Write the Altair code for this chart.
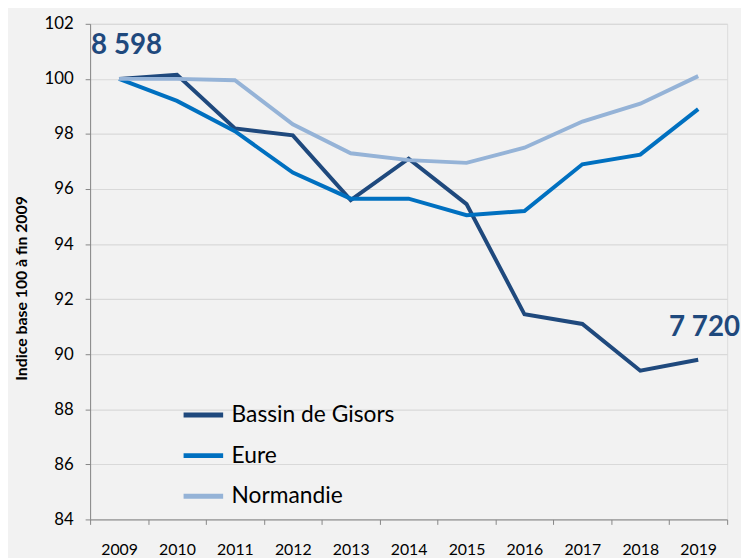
import altair as alt
import pandas as pd

years = [str(y) for y in range(2009, 2020)]
gisors = [100.0, 100.15, 98.2, 97.95, 95.6, 97.1, 95.45, 91.45, 91.1, 89.4, 89.8]
eure = [100.0, 99.2, 98.1, 96.6, 95.65, 95.65, 95.05, 95.2, 96.9, 97.25, 98.9]
normandie = [100.0, 100.0, 99.95, 98.35, 97.3, 97.05, 96.95, 97.5, 98.45, 99.1, 100.1]
series = ["Bassin de Gisors", "Eure", "Normandie"]
colors = ["#1F497D", "#0070C0", "#95B3D7"]

rows = []
for name, vals in zip(series, [gisors, eure, normandie]):
    for y, v in zip(years, vals):
        rows.append({"year": y, "value": v, "serie": name})
df = pd.DataFrame(rows)

ann_start = pd.DataFrame({"year": ["2009"], "value": [101.2], "label": ["8 598"]})
ann_end = pd.DataFrame({"year": ["2019"], "value": [90.95], "label": ["7 720"]})

FONT = "Lato"
xscale = alt.Scale(type="band", paddingInner=0, paddingOuter=0, domain=years)
yscale = alt.Scale(domain=[84, 102], nice=False, zero=False)

lines = alt.Chart(df).mark_line(strokeWidth=4, strokeJoin="miter").encode(
    x=alt.X("year:O", scale=xscale, bandPosition=0.5,
            axis=alt.Axis(title=None, labelAngle=0, tickBand="extent", labelFontSize=16,
                          labelPadding=17, tickSize=5, labelColor="#000000",
                          domainColor="#868686", tickColor="#868686", grid=False)),
    y=alt.Y("value:Q", scale=yscale,
            axis=alt.Axis(title="Indice base  100 à fin 2009", values=list(range(84, 103, 2)),
                          labelFontSize=17, labelPadding=12, tickSize=5,
                          titleFontSize=16, titleFontWeight="bold",
                          titleX=-69, titleY=267, titleBaseline="middle", titleAngle=270,
                          labelColor="#000000", titleColor="#000000",
                          domainColor="#868686", tickColor="#868686",
                          gridColor="#d9d9d9", gridWidth=1.2)),
    color=alt.Color("serie:N", scale=alt.Scale(domain=series, range=colors),
                    legend=alt.Legend(title=None, orient="none", legendX=92, legendY=373,
                                      symbolType="stroke", symbolStrokeWidth=5, symbolSize=1600,
                                      labelFontSize=23, labelOffset=6, rowPadding=6,
                                      labelLimit=400, padding=0, labelColor="#000000")),
    order=alt.Order("year:O"),
)

t1 = alt.Chart(ann_start).mark_text(align="left", baseline="middle", fontSize=28,
                                    fontWeight="bold", color="#1F497D", font=FONT, dx=1).encode(
    x=alt.X("year:O", scale=xscale, bandPosition=0), y=alt.Y("value:Q", scale=yscale),
    text="label:N")
t2 = alt.Chart(ann_end).mark_text(align="right", baseline="middle", fontSize=28,
                                  fontWeight="bold", color="#1F497D", font=FONT, dx=13).encode(
    x=alt.X("year:O", scale=xscale, bandPosition=1), y=alt.Y("value:Q", scale=yscale),
    text="label:N")

chart = alt.layer(lines, t1, t2).properties(
    width=644, height=501,
    autosize=alt.AutoSizeParams(type="none"),
    padding={"left": 83, "top": 13, "right": 14, "bottom": 36},
    background="#f2f2f2",
).configure_view(stroke=None, fill="#f2f2f2").configure(font=FONT)

chart.save("out.html", embed_options={"renderer": "svg", "actions": False})
